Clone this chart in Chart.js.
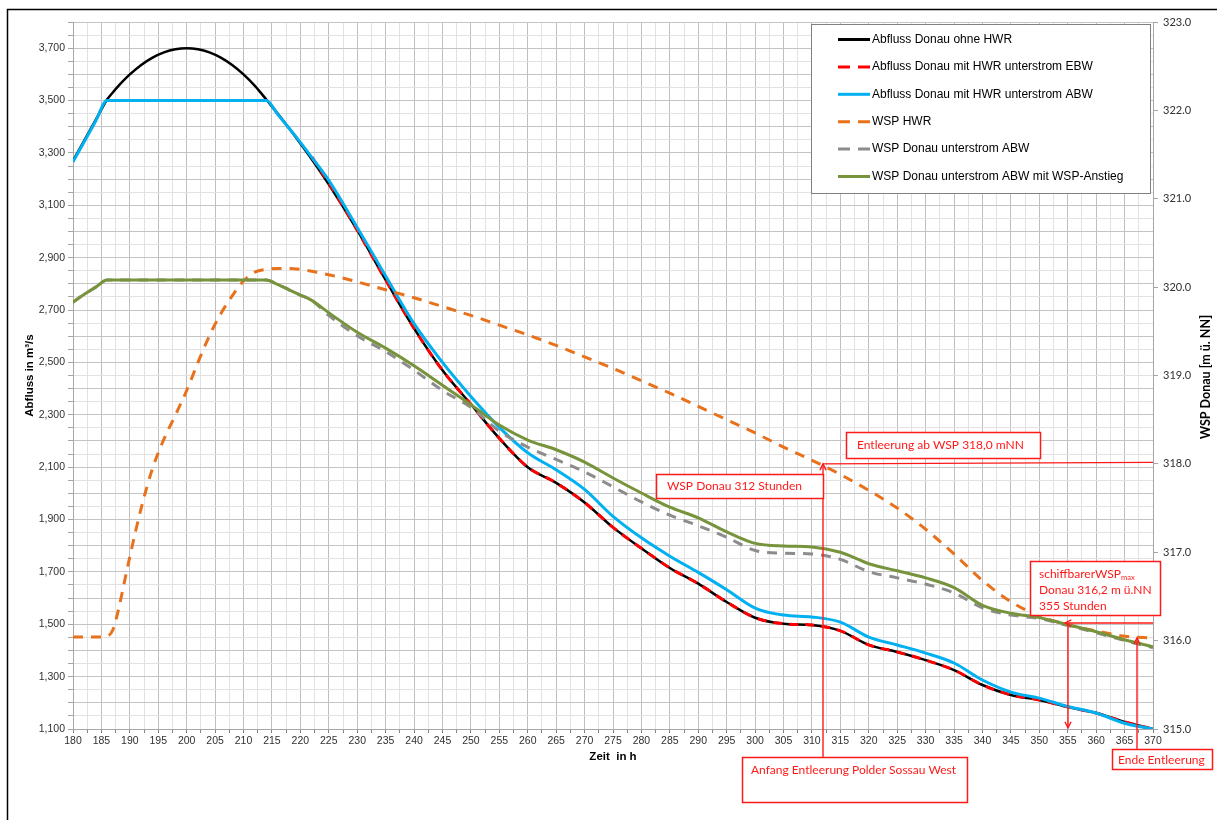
<!DOCTYPE html>
<html>
<head>
<meta charset="utf-8">
<title>Entleerung Polder Sossau West</title>
<script src="https://cdn.jsdelivr.net/npm/chart.js@4.4.1/dist/chart.umd.min.js"></script>
<style>
  html, body { margin: 0; padding: 0; background: #fff; }
  #wrap { position: relative; width: 1217px; height: 820px; }
</style>
</head>
<body>
<div id="wrap"><canvas id="hwrChart" width="1217" height="820"></canvas></div>
<script>
// Zeit in Stunden
const hours = [180, 182, 184, 186, 187, 188, 189, 190, 192, 194, 196, 198, 200, 202, 204, 206, 208, 210, 212, 214, 216, 218, 220, 222, 225,
  230, 235, 240, 245, 250, 255, 260, 265, 270, 275, 280, 285, 290, 295, 300, 305, 310, 315, 320, 325, 330, 335, 340, 345, 350, 355, 360, 365, 370];

// Abfluss in m3/s (linke Achse)
const abflussOhneHwr = [3270, 3348, 3426, 3504, 3531, 3556, 3579, 3600, 3636, 3664, 3684, 3696, 3700, 3696, 3684, 3664, 3636, 3600, 3556, 3504, 3450, 3394, 3336, 3276, 3180,
  3005, 2815, 2630, 2470, 2340, 2210, 2100, 2040, 1965, 1870, 1790, 1715, 1655, 1585, 1525, 1502, 1497, 1475, 1421, 1394, 1363, 1325, 1268, 1230, 1211, 1184, 1161, 1127, 1100];
const abflussEbw = [null, null, null, null, null, null, null, null, null, null, null, null, null, null, null, null, null, null, null, null, null, null, null, 3285, 3185,
  3005, 2815, 2630, 2470, 2340, 2210, 2100, 2040, 1965, 1870, 1790, 1715, 1655, 1585, 1525, 1502, 1497, 1475, 1421, 1394, 1363, 1325, 1268, 1230, 1211, 1184, 1161, 1127, 1100];
const abflussAbw = [3266, 3344, 3422, 3500, 3500, 3500, 3500, 3500, 3500, 3500, 3500, 3500, 3500, 3500, 3500, 3500, 3500, 3500, 3500, 3500, 3448, 3395, 3340, 3283, 3195,
  3015, 2830, 2648, 2500, 2370, 2252, 2155, 2090, 2015, 1912, 1830, 1760, 1698, 1632, 1562, 1535, 1528, 1508, 1451, 1421, 1390, 1352, 1287, 1241, 1218, 1186, 1161, 1122, 1100];

// Wasserspiegel in m ü. NN (rechte Achse)
const wspHwr = [316.04, 316.04, 316.04, 316.05, 316.12, 316.35, 316.65, 316.95, 317.50, 317.95, 318.28, 318.55, 318.83, 319.15, 319.45, 319.70, 319.90, 320.07, 320.17, 320.20, 320.21, 320.21, 320.20, 320.18, 320.14,
  320.06, 319.97, 319.88, 319.78, 319.68, 319.57, 319.46, 319.34, 319.21, 319.08, 318.94, 318.80, 318.65, 318.50, 318.35, 318.19, 318.04, 317.88, 317.70, 317.50, 317.26, 316.98, 316.68, 316.44, 316.28, 316.18, 316.11, 316.05, 316.03];
const wspAbw = [319.83, 319.92, 320.00, 320.08, 320.08, 320.08, 320.08, 320.08, 320.08, 320.08, 320.08, 320.08, 320.08, 320.08, 320.08, 320.08, 320.08, 320.08, 320.08, 320.08, 320.03, 319.97, 319.91, 319.85, 319.68,
  319.45, 319.27, 319.06, 318.83, 318.64, 318.37, 318.19, 318.05, 317.91, 317.74, 317.57, 317.42, 317.30, 317.17, 317.02, 316.99, 316.98, 316.92, 316.78, 316.71, 316.64, 316.54, 316.37, 316.29, 316.25, 316.17, 316.09, 316.00, 315.92];
const wspAbwAnstieg = [319.83, 319.92, 320.00, 320.08, 320.08, 320.08, 320.08, 320.08, 320.08, 320.08, 320.08, 320.08, 320.08, 320.08, 320.08, 320.08, 320.08, 320.08, 320.08, 320.08, 320.03, 319.97, 319.91, 319.85, 319.71,
  319.49, 319.31, 319.11, 318.89, 318.67, 318.44, 318.27, 318.16, 318.02, 317.84, 317.67, 317.51, 317.39, 317.23, 317.10, 317.07, 317.06, 317.00, 316.87, 316.79, 316.71, 316.60, 316.40, 316.31, 316.26, 316.18, 316.10, 316.01, 315.93];

// Achsbeschriftungen
const leftTicks = [1100, 1300, 1500, 1700, 1900, 2100, 2300, 2500, 2700, 2900, 3100, 3300, 3500, 3700];
const rightTicks = [315, 316, 317, 318, 319, 320, 321, 322, 323];

const ARIAL = '"Liberation Sans", Arial, sans-serif';
const CALIBRI = 'Lato, "Open Sans", sans-serif';

function toPoints(values) {
  return hours.map((h, i) => ({ x: h, y: values[i] }));
}

// weisser Hintergrund und Rahmen
const framePlugin = {
  id: 'frame',
  beforeDraw(chart) {
    const ctx = chart.ctx;
    ctx.save();
    ctx.fillStyle = '#fff';
    ctx.fillRect(0, 0, chart.width, chart.height);
    ctx.strokeStyle = '#000';
    ctx.lineWidth = 1.5;
    ctx.strokeRect(7.5, 9.5, chart.width + 20, chart.height + 20);
    ctx.restore();
  }
};

// Legende im Diagramm oben rechts
const legendPlugin = {
  id: 'legendBox',
  afterDatasetsDraw(chart) {
    const ctx = chart.ctx;
    const left = 811, top = 24, w = 339, h = 169;
    ctx.save();
    ctx.fillStyle = '#fff';
    ctx.fillRect(left, top, w, h);
    ctx.strokeStyle = '#808080';
    ctx.lineWidth = 1;
    ctx.strokeRect(left + 0.5, top + 0.5, w, h);
    ctx.font = '12px ' + ARIAL;
    ctx.textBaseline = 'middle';
    chart.data.datasets.forEach((ds, i) => {
      const y = top + 15.5 + i * 27.4;
      ctx.beginPath();
      ctx.setLineDash(ds.borderDash ? [12, 8] : []);
      ctx.strokeStyle = ds.borderColor;
      ctx.lineWidth = 3;
      ctx.moveTo(838, y);
      ctx.lineTo(870, y);
      ctx.stroke();
      ctx.setLineDash([]);
      ctx.fillStyle = '#000';
      ctx.fillText(ds.label, 872, y);
    });
    ctx.restore();
  }
};

function arrowHead(ctx, x, y, angle) {
  const len = 7;
  ctx.beginPath();
  ctx.moveTo(x + len * Math.cos(angle - 0.45), y + len * Math.sin(angle - 0.45));
  ctx.lineTo(x, y);
  ctx.lineTo(x + len * Math.cos(angle + 0.45), y + len * Math.sin(angle + 0.45));
  ctx.stroke();
}

function noteBox(ctx, l, t, w, h) {
  ctx.fillStyle = '#fff';
  ctx.fillRect(l, t, w, h);
  ctx.strokeRect(l + 0.5, t + 0.5, w, h);
}

// rote Hinweise und Pfeile
const notesPlugin = {
  id: 'notes',
  afterDraw(chart) {
    const { ctx, scales } = chart;
    const x = scales.x, y2 = scales.y2;
    const red = '#ff1a1a';
    const x312 = Math.round(x.getPixelForValue(312));
    const x355 = Math.round(x.getPixelForValue(355));
    const x367 = Math.round(x.getPixelForValue(367.2));
    const y318 = y2.getPixelForValue(318);
    const y3162 = y2.getPixelForValue(316.2);
    const y315 = y2.getPixelForValue(315);
    const yEnde = y2.getPixelForValue(316.03);

    ctx.save();
    ctx.strokeStyle = red;
    ctx.lineWidth = 1.4;

    // Entleerung ab 318,0
    ctx.beginPath();
    ctx.moveTo(x312, y318);
    ctx.lineTo(x.right, y318 - 1.5);
    ctx.moveTo(x312, y318);
    ctx.lineTo(x312, 757);
    ctx.stroke();
    arrowHead(ctx, x312, y318, Math.PI / 2);

    // 355 Stunden
    ctx.beginPath();
    ctx.moveTo(x.right, y3162);
    ctx.lineTo(x355 - 3, y3162);
    ctx.moveTo(x355, y3162);
    ctx.lineTo(x355, y315 - 1);
    ctx.stroke();
    arrowHead(ctx, x355 - 3, y3162, 0);
    arrowHead(ctx, x355, y315 - 1, -Math.PI / 2);

    // Ende Entleerung
    ctx.beginPath();
    ctx.moveTo(x367, 749);
    ctx.lineTo(x367, yEnde);
    ctx.stroke();
    arrowHead(ctx, x367, yEnde, Math.PI / 2);

    ctx.lineWidth = 1.5;
    noteBox(ctx, 846, 432, 194, 26);
    noteBox(ctx, 656, 474, 167, 24);
    noteBox(ctx, 742, 757, 225, 45);
    noteBox(ctx, 1030, 561, 130, 54);
    noteBox(ctx, 1112, 749, 100, 20);

    ctx.fillStyle = red;
    ctx.textBaseline = 'middle';
    ctx.font = '12px ' + CALIBRI;
    ctx.fillText('Entleerung ab WSP 318,0 mNN', 857, 445);
    ctx.fillText('WSP Donau 312 Stunden', 667, 486);
    ctx.fillText('Anfang Entleerung Polder Sossau West', 751, 770);
    ctx.fillText('Ende Entleerung', 1118, 760);
    const label = 'schiffbarerWSP';
    ctx.fillText(label, 1039, 574);
    const lw = ctx.measureText(label).width;
    ctx.font = '7.5px ' + CALIBRI;
    ctx.fillText('max', 1039 + lw, 578);
    ctx.font = '12px ' + CALIBRI;
    ctx.fillText('Donau 316,2 m ü.NN', 1039, 590);
    ctx.fillText('355 Stunden', 1039, 606);

    // Titel der rechten Achse
    ctx.fillStyle = '#000';
    ctx.font = 'bold 12.5px ' + CALIBRI;
    ctx.textAlign = 'center';
    ctx.translate(1206, 377);
    ctx.rotate(-Math.PI / 2);
    ctx.fillText('WSP Donau [m ü. NN]', 0, 0);
    ctx.restore();
  }
};

function createHwrChart() {
  const ctx = document.getElementById('hwrChart').getContext('2d');
  new Chart(ctx, {
    type: 'line',
    data: {
      datasets: [
        { label: 'Abfluss Donau ohne HWR', data: toPoints(abflussOhneHwr), yAxisID: 'y',
          borderColor: '#000000', borderWidth: 2.5, order: 6 },
        { label: 'Abfluss Donau mit HWR unterstrom EBW', data: toPoints(abflussEbw), yAxisID: 'y',
          borderColor: '#ff0000', borderWidth: 3, borderDash: [9, 7], order: 5 },
        { label: 'Abfluss Donau mit HWR unterstrom ABW', data: toPoints(abflussAbw), yAxisID: 'y',
          borderColor: '#00b0f0', borderWidth: 3, order: 4 },
        { label: 'WSP HWR', data: toPoints(wspHwr), yAxisID: 'y2',
          borderColor: '#e8711b', borderWidth: 3, borderDash: [10, 8], order: 3 },
        { label: 'WSP Donau unterstrom ABW', data: toPoints(wspAbw), yAxisID: 'y2',
          borderColor: '#8c8c8c', borderWidth: 3, borderDash: [10, 8], order: 2 },
        { label: 'WSP Donau unterstrom ABW mit WSP-Anstieg', data: toPoints(wspAbwAnstieg), yAxisID: 'y2',
          borderColor: '#77933c', borderWidth: 3, order: 1 }
      ]
    },
    options: {
      responsive: false,
      animation: false,
      devicePixelRatio: 1,
      layout: { padding: { top: 22, left: 0, right: 0, bottom: 0 } },
      elements: {
        point: { radius: 0 },
        line: { cubicInterpolationMode: 'monotone', fill: false }
      },
      plugins: {
        legend: { display: false },
        tooltip: { enabled: false }
      },
      scales: {
        x: {
          type: 'linear',
          min: 180,
          max: 370,
          afterFit: scale => { scale.height = 91; },
          ticks: {
            stepSize: 2.5,
            autoSkip: false,
            maxRotation: 0,
            padding: 2,
            color: '#303030',
            font: { family: ARIAL, size: 10.5 },
            callback: v => (v % 5 === 0 ? String(v) : '')
          },
          grid: {
            color: c => (c.tick && c.tick.value % 5 === 0 ? '#bfbfbf' : '#e2e2e2'),
            tickColor: '#808080',
            tickLength: 4
          },
          border: { color: '#a6a6a6' },
          title: {
            display: true,
            text: 'Zeit  in h',
            color: '#000',
            font: { family: ARIAL, size: 11.5, weight: 'bold' },
            padding: { top: 0, bottom: 56 }
          }
        },
        y: {
          position: 'left',
          min: 1100,
          max: 3800,
          afterFit: scale => { scale.width = 73; },
          ticks: {
            stepSize: 50,
            autoSkip: false,
            padding: 3,
            color: '#303030',
            font: { family: ARIAL, size: 10.5 },
            callback: v => (leftTicks.includes(v) ? v.toLocaleString('en-US') : '')
          },
          grid: {
            color: c => (c.tick && c.tick.value % 100 === 0 ? '#c4c4c4' : '#e2e2e2'),
            tickColor: '#a6a6a6',
            tickLength: 5
          },
          border: { color: '#a6a6a6' },
          title: {
            display: true,
            text: 'Abfluss in m³/s',
            color: '#000',
            font: { family: ARIAL, size: 11.5, weight: 'bold' },
            padding: { top: 23, bottom: 0 }
          }
        },
        y2: {
          position: 'right',
          min: 315,
          max: 323,
          afterFit: scale => { scale.width = 64; },
          ticks: {
            stepSize: 1,
            autoSkip: false,
            padding: 5,
            color: '#303030',
            font: { family: CALIBRI, size: 11 },
            callback: v => (rightTicks.includes(v) ? v.toFixed(1) : '')
          },
          grid: { drawOnChartArea: false, tickColor: '#a6a6a6', tickLength: 5 },
          border: { color: '#a6a6a6' }
        }
      }
    },
    plugins: [framePlugin, legendPlugin, notesPlugin]
  });
}

document.addEventListener('DOMContentLoaded', () => {
  createHwrChart();
});
</script>
</body>
</html>
